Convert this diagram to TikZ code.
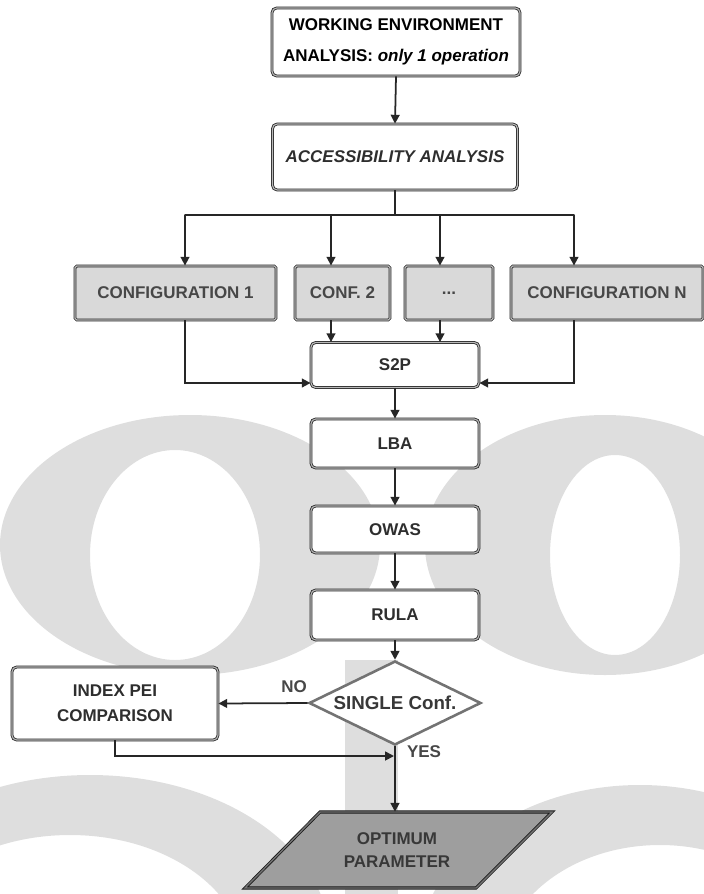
\documentclass[tikz,border=0pt]{standalone}
\usepackage{fontspec}
\setmainfont{Liberation Sans}
\usetikzlibrary{arrows.meta,shapes.geometric}
\begin{document}
\begin{tikzpicture}[x=0.03cm,y=-0.03cm,
  every node/.style={font=\fontsize{14.5}{17}\selectfont\bfseries},
  sz/.style 2 args={minimum width=#1*0.03cm, minimum height=#2*0.03cm},
  rbox/.style={draw=black!85, line width=0.7pt, double=gray!55, double distance=1pt,
    rounded corners=4pt, fill=white, align=center, inner sep=0pt, text=black!82},
  cbox/.style={rbox, fill=black!15, rounded corners=1.5pt, text=black!72},
  conn/.style={draw=black!85, line width=1.5pt, -{Triangle[length=7.5pt,width=7.5pt]}},
  wire/.style={draw=black!85, line width=1.5pt},
  wm/.style={fill=black!13, draw=none},
  lbl/.style={text=black!72, inner sep=0pt}]

% page frame
\useasboundingbox (0,0) rectangle (704,894);

% faint background emblem
\fill[wm, even odd rule] (190,545) ellipse [x radius=190, y radius=130]
                        (175,555) ellipse [x radius=85, y radius=105];
\fill[wm, even odd rule] (605,545) ellipse [x radius=180, y radius=130]
                        (615,555) ellipse [x radius=65, y radius=100];
\fill[wm, even odd rule] (90,940) ellipse [x radius=240, y radius=165]
                        (70,960) ellipse [x radius=175, y radius=125];
\fill[wm, even odd rule] (640,950) ellipse [x radius=220, y radius=165]
                        (660,970) ellipse [x radius=160, y radius=125];
\fill[wm] (345,660) rectangle (398,894);

% process boxes
\node[rbox, sz={248}{68}, text=black, font=\fontsize{14.5}{27}\selectfont\bfseries] (wea) at (396,42)
  {WORKING ENVIRONMENT\\ANALYSIS: \textit{only 1 operation}};
\node[rbox, sz={245}{66}, font=\fontsize{14.5}{17}\selectfont\bfseries\itshape] (acc) at (395,157)
  {ACCESSIBILITY ANALYSIS};

\node[cbox, sz={201}{54}] (c1) at (175.5,293) {CONFIGURATION 1};
\node[cbox, sz={95}{54}]  (c2) at (342.5,293) {CONF. 2};
\node[cbox, sz={88}{54}]  (c3) at (449,293) {...};
\node[cbox, sz={192}{54}] (cn) at (607,293) {CONFIGURATION N};

\node[rbox, sz={168}{45}] (s2p)  at (395,365) {S2P};
\node[rbox, sz={168}{49}] (lba)  at (395,443.5) {LBA};
\node[rbox, sz={168}{47}] (owas) at (395,529.5) {OWAS};
\node[rbox, sz={168}{50}] (rula) at (395,615) {RULA};

\node[diamond, draw=black!55, line width=2.2pt, fill=white, inner sep=0pt, sz={172}{84},
  label={[text=black!78, font=\fontsize{16}{18}\selectfont\bfseries]center:SINGLE Conf.}] (dia) at (395,703) {};

\node[rbox, sz={206}{73}, font=\fontsize{14.5}{21}\selectfont\bfseries] (idx) at (115,703.5)
  {INDEX PEI\\COMPARISON};

% final output (parallelogram)
\coordinate (p1) at (320,812);
\coordinate (p2) at (552,812);
\coordinate (p3) at (476,888);
\coordinate (p4) at (245,888);
\draw[fill=black!38, draw=black!90, line width=0.7pt, double=black!55, double distance=1.2pt]
  (p1) -- (p2) -- (p3) -- (p4) -- cycle;
\node[inner sep=0pt, sz={60}{76}, align=center, text=black!78, font=\fontsize{14.5}{20}\selectfont\bfseries] (opt) at (397,850)
  {OPTIMUM\\PARAMETER};

% branching bus
\coordinate (bus) at (395,215);
\coordinate (b1) at (185,215);
\coordinate (b2) at (331,215);
\coordinate (b3) at (440,215);
\coordinate (b4) at (574,215);
\coordinate (row) at (0,383);
\coordinate (merge) at (394,756);

% connectors
\draw[conn] (wea.south) -- (acc.north);
\draw[wire] (acc.south) -- (bus);
\draw[wire, line cap=round] (b1) -- (b4);
\foreach \b/\c in {b1/c1, b2/c2, b3/c3, b4/cn}
  \draw[conn] (\b) -- (\b |- \c.north);
\draw[conn] (c2.south -| b2) -- (b2 |- s2p.north);
\draw[conn] (c3.south -| b3) -- (b3 |- s2p.north);
\draw[conn] (c1.south -| b1) |- (s2p.west |- row);
\draw[conn] (cn.south -| b4) |- (s2p.east |- row);
\draw[conn] (s2p.south) -- (lba.north);
\draw[conn] (lba.south) -- (owas.north);
\draw[conn] (owas.south) -- (rula.north);
\draw[conn] (rula.south) -- (dia.north);
\draw[conn] (dia.west) -- (idx.east);
\draw[conn] (idx.south) |- (merge);
\draw[conn] (dia.south) -- (dia.south |- opt.north);

% branch labels
\node[lbl] (no)  at (294,687) {NO};
\node[lbl] (yes) at (424,752) {YES};
\end{tikzpicture}
\end{document}
